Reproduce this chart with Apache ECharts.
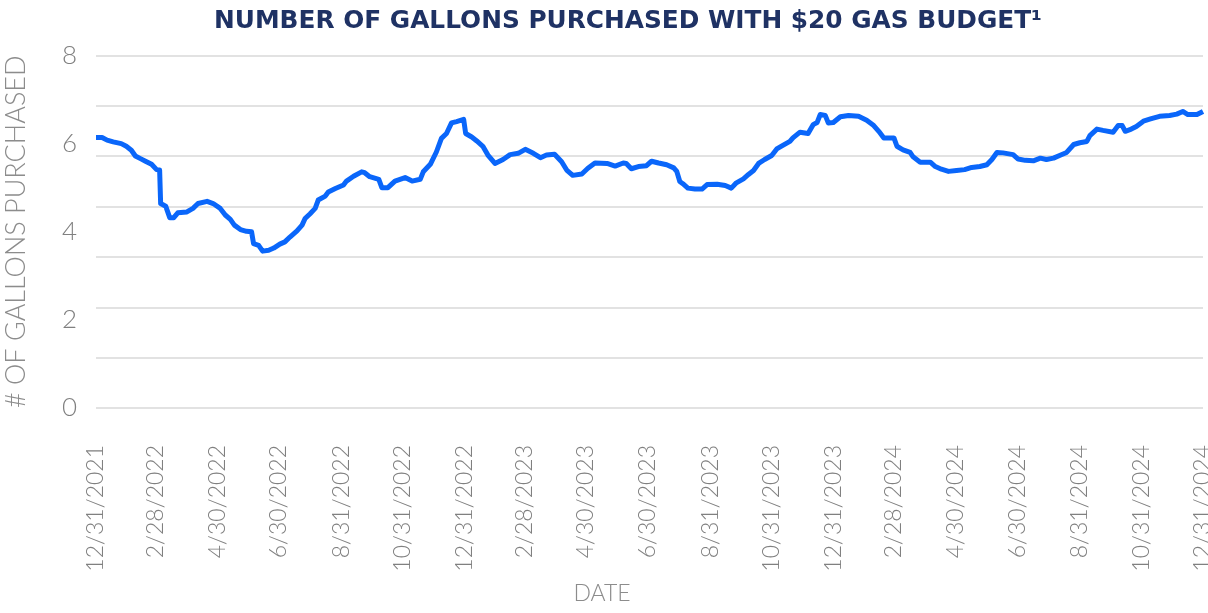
<!DOCTYPE html>
<html>
<head>
<meta charset="utf-8">
<title>Gallons purchased with $20 gas budget</title>
<script src="https://cdn.jsdelivr.net/npm/echarts@6/dist/echarts.min.js"></script>
<style>
    html, body { margin: 0; padding: 0; background: #fff; }
    #main { width: 1208px; height: 613px; }
</style>
</head>
<body>
<div id="main"></div>
<script>
// readings taken off the line, date -> gallons
var dates = [
    '2021-12-31', '2022-01-06', '2022-01-11', '2022-01-17', '2022-01-25', '2022-01-30', '2022-02-04', '2022-02-08',
    '2022-02-13', '2022-02-18', '2022-02-24', '2022-03-01', '2022-03-04', '2022-03-05', '2022-03-10', '2022-03-14',
    '2022-03-18', '2022-03-22', '2022-03-31', '2022-04-06', '2022-04-11', '2022-04-20', '2022-04-26', '2022-05-03',
    '2022-05-08', '2022-05-13', '2022-05-17', '2022-05-23', '2022-05-29', '2022-06-03', '2022-06-05', '2022-06-10',
    '2022-06-14', '2022-06-20', '2022-06-25', '2022-07-01', '2022-07-06', '2022-07-11', '2022-07-18', '2022-07-23',
    '2022-07-26', '2022-07-31', '2022-08-05', '2022-08-08', '2022-08-15', '2022-08-18', '2022-08-25', '2022-09-02',
    '2022-09-05', '2022-09-12', '2022-09-20', '2022-09-23', '2022-09-28', '2022-10-07', '2022-10-10', '2022-10-16',
    '2022-10-23', '2022-11-02', '2022-11-09', '2022-11-17', '2022-11-20', '2022-11-27', '2022-12-03', '2022-12-08',
    '2022-12-13', '2022-12-18', '2022-12-23', '2022-12-30', '2023-01-01', '2023-01-07', '2023-01-12', '2023-01-18',
    '2023-01-23', '2023-01-30', '2023-02-07', '2023-02-14', '2023-02-22', '2023-03-01', '2023-03-09', '2023-03-16',
    '2023-03-22', '2023-03-30', '2023-04-06', '2023-04-11', '2023-04-17', '2023-04-26', '2023-05-02', '2023-05-09',
    '2023-05-21', '2023-05-29', '2023-06-06', '2023-06-09', '2023-06-14', '2023-06-21', '2023-06-29', '2023-07-04',
    '2023-07-11', '2023-07-19', '2023-07-26', '2023-07-29', '2023-08-01', '2023-08-04', '2023-08-09', '2023-08-16',
    '2023-08-23', '2023-08-28', '2023-09-07', '2023-09-15', '2023-09-21', '2023-09-26', '2023-10-03', '2023-10-08',
    '2023-10-13', '2023-10-18', '2023-10-24', '2023-10-31', '2023-11-05', '2023-11-11', '2023-11-18', '2023-11-21',
    '2023-11-28', '2023-12-06', '2023-12-11', '2023-12-15', '2023-12-18', '2023-12-23', '2023-12-26', '2023-12-31',
    '2024-01-07', '2024-01-15', '2024-01-25', '2024-02-02', '2024-02-09', '2024-02-14', '2024-02-19', '2024-02-29',
    '2024-03-03', '2024-03-09', '2024-03-16', '2024-03-19', '2024-03-26', '2024-04-05', '2024-04-10', '2024-04-16',
    '2024-04-23', '2024-05-01', '2024-05-09', '2024-05-16', '2024-05-24', '2024-05-31', '2024-06-05', '2024-06-10',
    '2024-06-16', '2024-06-26', '2024-07-01', '2024-07-08', '2024-07-16', '2024-07-23', '2024-07-29', '2024-08-05',
    '2024-08-11', '2024-08-18', '2024-08-25', '2024-08-31', '2024-09-07', '2024-09-10', '2024-09-17', '2024-09-23',
    '2024-10-03', '2024-10-08', '2024-10-12', '2024-10-15', '2024-10-21', '2024-10-26', '2024-11-02', '2024-11-09',
    '2024-11-18', '2024-11-28', '2024-12-05', '2024-12-11', '2024-12-16', '2024-12-25', '2024-12-31'
];
var gallons = [
    6.14, 6.14, 6.08, 6.04, 6.00, 5.94, 5.85, 5.72,
    5.66, 5.60, 5.53, 5.41, 5.40, 4.64, 4.58, 4.32,
    4.32, 4.43, 4.45, 4.53, 4.64, 4.69, 4.64, 4.53,
    4.38, 4.28, 4.15, 4.05, 4.01, 4.00, 3.73, 3.69,
    3.56, 3.58, 3.63, 3.72, 3.77, 3.88, 4.02, 4.15,
    4.30, 4.41, 4.53, 4.72, 4.81, 4.90, 4.98, 5.06,
    5.15, 5.26, 5.36, 5.34, 5.25, 5.19, 5.00, 5.00,
    5.15, 5.23, 5.15, 5.19, 5.36, 5.53, 5.81, 6.12,
    6.23, 6.47, 6.50, 6.55, 6.23, 6.15, 6.06, 5.94,
    5.74, 5.55, 5.64, 5.75, 5.78, 5.87, 5.78, 5.68,
    5.74, 5.76, 5.59, 5.40, 5.28, 5.31, 5.44, 5.56,
    5.55, 5.49, 5.56, 5.55, 5.43, 5.48, 5.50, 5.60,
    5.56, 5.52, 5.45, 5.37, 5.14, 5.09, 4.99, 4.97,
    4.97, 5.07, 5.08, 5.05, 4.99, 5.11, 5.20, 5.30,
    5.39, 5.55, 5.64, 5.73, 5.88, 5.96, 6.05, 6.13,
    6.26, 6.23, 6.43, 6.48, 6.66, 6.64, 6.47, 6.48,
    6.61, 6.64, 6.62, 6.53, 6.41, 6.28, 6.13, 6.13,
    5.94, 5.86, 5.80, 5.70, 5.58, 5.58, 5.48, 5.42,
    5.37, 5.39, 5.41, 5.46, 5.48, 5.52, 5.64, 5.80,
    5.79, 5.75, 5.65, 5.62, 5.61, 5.67, 5.64, 5.67,
    5.73, 5.80, 5.98, 6.02, 6.05, 6.18, 6.33, 6.30,
    6.26, 6.41, 6.41, 6.28, 6.33, 6.39, 6.51, 6.56,
    6.62, 6.64, 6.67, 6.73, 6.66, 6.66, 6.73
];
// x labels every two months, month end
var tickDates = [
    '2021-12-31', '2022-02-28', '2022-04-30', '2022-06-30', '2022-08-31', '2022-10-31',
    '2022-12-31', '2023-02-28', '2023-04-30', '2023-06-30', '2023-08-31', '2023-10-31',
    '2023-12-31', '2024-02-29', '2024-04-30', '2024-06-30', '2024-08-31', '2024-10-31',
    '2024-12-31'
];
var tickLabels = [
    '12/31/2021', '2/28/2022', '4/30/2022', '6/30/2022', '8/31/2022', '10/31/2022',
    '12/31/2022', '2/28/2023', '4/30/2023', '6/30/2023', '8/31/2023', '10/31/2023',
    '12/31/2023', '2/28/2024', '4/30/2024', '6/30/2024', '8/31/2024', '10/31/2024',
    '12/31/2024'
];

// dates as plain day numbers so the value axis can take custom label spots
function toDay(s) {
    var p = s.split('-');
    return Math.round(Date.UTC(+p[0], +p[1] - 1, +p[2]) / 86400000);
}

var grayText = '#808080';
var tickDays = tickDates.map(toDay);
var seriesData = dates.map(function(d, i) {
    return [toDay(d), gallons[i]];
});

var myChart = echarts.init(document.getElementById('main'));
var option = {
    backgroundColor: '#ffffff',
    animation: false,
    grid: { left: 96, right: 5, top: 55.5, bottom: 205, containLabel: false, outerBoundsMode: 'none' },
    graphic: [{
        type: 'text',
        x: 628, y: 22,
        style: {
            text: 'NUMBER OF GALLONS PURCHASED WITH $20 GAS BUDGET\u00b9',
            fill: '#1f3264',
            font: 'bold 24.8px "DejaVu Sans"',
            textAlign: 'center',
            textVerticalAlign: 'middle'
        }
    }, {
        type: 'text',
        x: 602, y: 594,
        style: {
            text: 'DATE',
            fill: '#8c8c8c',
            font: '300 23px Lato',
            textAlign: 'center',
            textVerticalAlign: 'middle'
        }
    }],
    xAxis: {
        type: 'value',
        min: tickDays[0],
        max: tickDays[tickDays.length - 1],
        axisLine: { show: false },
        axisTick: { show: false },
        splitLine: { show: false },
        axisLabel: {
            customValues: tickDays,
            rotate: 90,
            margin: 37,
            fontFamily: 'Lato',
            fontWeight: 300,
            fontSize: 23,
            color: grayText,
            hideOverlap: false,
            formatter: function(v) {
                var i = tickDays.indexOf(v);
                return i >= 0 ? tickLabels[i] : '';
            }
        }
    },
    yAxis: [{
        type: 'value',
        min: 0,
        max: 8,
        interval: 2,
        name: '# OF GALLONS PURCHASED',
        nameLocation: 'middle',
        nameGap: 66,
        nameMoveOverlap: false,
        nameTextStyle: { fontFamily: 'Lato', fontWeight: 300, fontSize: 27, color: '#8c8c8c' },
        axisLine: { show: false },
        axisTick: { show: false },
        splitLine: { show: false },
        axisLabel: { margin: 19, fontFamily: 'Lato', fontWeight: 300, fontSize: 26, color: grayText }
    }, {
        // gridlines in the source sit on their own spacing, not on the labels
        type: 'value',
        min: 0,
        max: 7,
        interval: 1,
        position: 'left',
        axisLine: { show: false },
        axisTick: { show: false },
        axisLabel: { show: false },
        splitLine: { lineStyle: { color: '#d9d9d9', width: 1.5 } }
    }],
    series: [{
        type: 'line',
        yAxisIndex: 0,
        data: seriesData,
        showSymbol: false,
        lineStyle: { color: '#0a66fa', width: 5, join: 'round' },
        z: 3
    }]
};
myChart.setOption(option);
</script>
</body>
</html>
